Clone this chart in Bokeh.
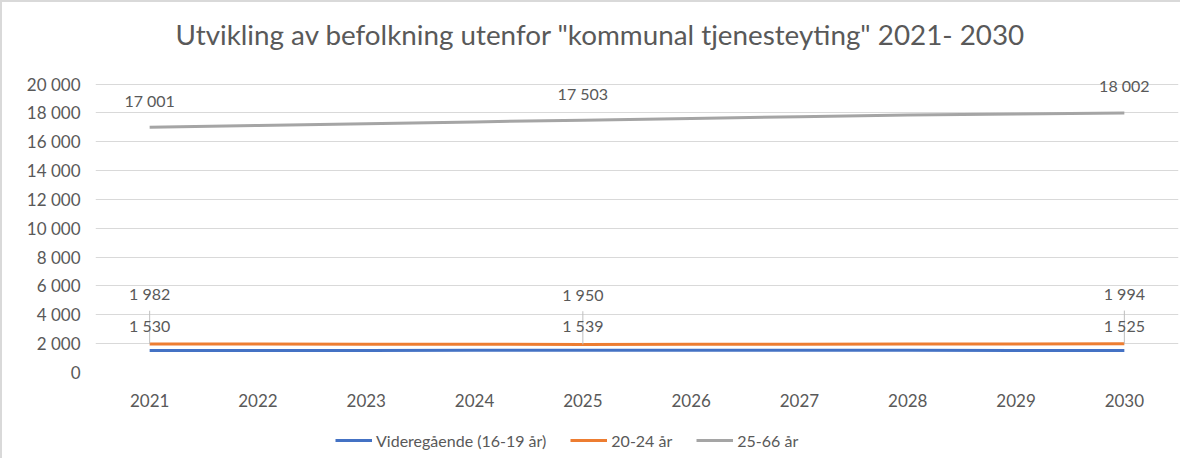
from bokeh.plotting import figure
from bokeh.layouts import column
from bokeh.models import (Legend, LegendItem, ColumnDataSource, FixedTicker,
                          FactorRange, Range1d, Label)
from bokeh.core.properties import value
from bokeh.embed import file_html
from bokeh.resources import INLINE

years = ["2021", "2022", "2023", "2024", "2025", "2026", "2027", "2028", "2029", "2030"]
vgs = [1530, 1532, 1534, 1536, 1539, 1543, 1546, 1538, 1530, 1525]
age_20_24 = [1982, 1970, 1960, 1952, 1950, 1956, 1964, 1975, 1985, 1994]
age_25_66 = [17001, 17130, 17255, 17380, 17503, 17620, 17740, 17860, 17935, 18002]
series_names = ["Videregående (16-19 år)", "20-24 år", "25-66 år"]
colors = ["#4472C4", "#ED7D31", "#A5A5A5"]
label_idx = [0, 4, 9]
y_ticks = list(range(0, 20001, 2000))
title_text = 'Utvikling av befolkning utenfor "kommunal tjenesteyting" 2021- 2030'

FONT = "Lato"
TXT = "#595959"
W = 1178


def blank_strip(height, x_range, y_range):
    f = figure(width=W, height=height, output_backend="svg", toolbar_location=None,
               x_range=x_range, y_range=y_range, x_axis_location=None, y_axis_location=None,
               min_border_left=0, min_border_right=0, min_border_top=0, min_border_bottom=0)
    f.grid.visible = False
    f.outline_line_color = None
    f.background_fill_color = "white"
    f.border_fill_color = "white"
    return f


# title strip
tf = blank_strip(60, Range1d(0, 1), Range1d(0, 1))
tf.add_layout(Label(x=505, y=28, x_units="screen", y_units="screen", text=title_text,
                    text_align="center", text_baseline="middle", text_font=FONT,
                    text_font_size="27.8px", text_color=TXT))

# main chart
p = figure(x_range=FactorRange(*years), y_range=Range1d(0, 21500),
           width=W, height=350, output_backend="svg", toolbar_location=None,
           min_border_left=93, min_border_right=2, min_border_top=0, min_border_bottom=40)
p.outline_line_color = None
p.background_fill_color = "white"
p.border_fill_color = "white"

p.ygrid.grid_line_color = "#d9d9d9"
p.ygrid.grid_line_width = 1
p.xgrid.grid_line_color = None
p.yaxis.ticker = FixedTicker(ticks=y_ticks)
p.yaxis.major_label_overrides = {t: f"{t:,}".replace(",", " ") for t in y_ticks}
for ax in (p.xaxis, p.yaxis):
    ax.axis_line_color = None
    ax.major_tick_line_color = None
    ax.minor_tick_line_color = None
    ax.major_label_text_font = FONT
    ax.major_label_text_color = TXT
p.yaxis.major_label_text_font_size = "17px"
p.yaxis.major_label_standoff = 9
p.xaxis.major_label_text_font_size = "17px"
p.xaxis.major_label_standoff = 15

series_vals = [vgs, age_20_24, age_25_66]
for name, vals, c in zip(series_names, series_vals, colors):
    src = ColumnDataSource(dict(x=years, y=vals))
    p.line("x", "y", source=src, line_color=c, line_width=3)

# leader lines for the lower data labels
lx = [years[i] for i in label_idx]
ly0 = [age_20_24[i] for i in label_idx]
ly1 = [age_20_24[i] + 2300 for i in label_idx]
p.segment(x0=lx, y0=ly0, x1=lx, y1=ly1, line_color="#bfbfbf", line_width=1)


def fmt(v):
    return f"{v:,}".replace(",", " ")


for vals, off in [(age_25_66, -27), (age_20_24, -50), (vgs, -25)]:
    src = ColumnDataSource(dict(x=[years[i] for i in label_idx],
                                y=[vals[i] for i in label_idx],
                                t=[fmt(vals[i]) for i in label_idx]))
    p.text("x", "y", text="t", source=src, y_offset=off, text_align="center",
           text_baseline="middle", text_font=value(FONT), text_font_size="16px",
           text_color=TXT)

# legend strip (series drawn out of view so only the legend shows)
lg = blank_strip(46, FactorRange(*years), Range1d(-2, -1))
leg_renderers = [lg.line(x=years, y=vals, line_color=c, line_width=3)
                 for vals, c in zip(series_vals, colors)]
legend = Legend(items=[LegendItem(label=n, renderers=[r]) for n, r in zip(series_names, leg_renderers)],
                location=(240, 8), orientation="horizontal", glyph_width=37, glyph_height=20,
                label_height=20, label_standoff=4, spacing=24, padding=0, margin=0,
                border_line_color=None, background_fill_alpha=0,
                label_text_font=FONT, label_text_font_size="16px", label_text_color=TXT)
lg.add_layout(legend)

layout = column(tf, p, lg, spacing=0)
layout.styles = {"border-left": "2px solid #d9d9d9", "border-top": "2px solid #d9d9d9"}

open("out.html", "w").write(file_html(layout, INLINE))
